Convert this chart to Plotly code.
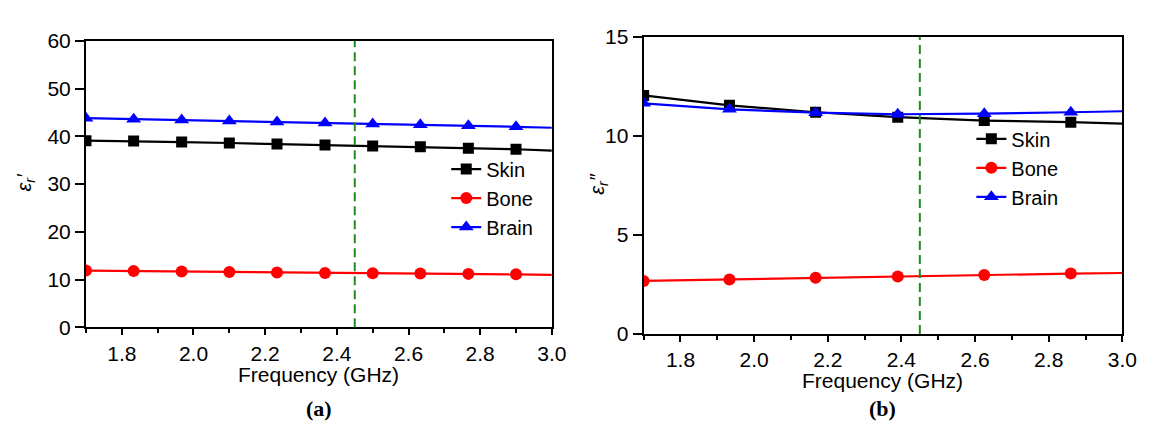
import plotly.graph_objects as go

W, H = 1157, 424

# ---------------- data ----------------
freq_a = [1.7, 1.833, 1.967, 2.1, 2.233, 2.367, 2.5, 2.633, 2.767, 2.9]
freq_a_end = [2.9, 3.0]
skin_a = [39.1, 39.0, 38.8, 38.6, 38.4, 38.2, 38.0, 37.8, 37.5, 37.3]
skin_a_end = [37.3, 37.0]
bone_a = [11.9, 11.8, 11.7, 11.6, 11.5, 11.4, 11.35, 11.3, 11.2, 11.1]
bone_a_end = [11.1, 11.0]
brain_a = [43.8, 43.6, 43.4, 43.2, 43.0, 42.8, 42.6, 42.4, 42.2, 42.0]
brain_a_end = [42.0, 41.8]

freq_b = [1.7, 1.933, 2.167, 2.39, 2.625, 2.86]
freq_b_end = [2.86, 3.0]
skin_b = [12.05, 11.55, 11.2, 10.95, 10.78, 10.7]
skin_b_end = [10.7, 10.63]
bone_b = [2.68, 2.75, 2.84, 2.9, 2.98, 3.05]
bone_b_end = [3.05, 3.08]
brain_b = [11.65, 11.35, 11.18, 11.1, 11.13, 11.2]
brain_b_end = [11.2, 11.25]

marker_freq = 2.45

x_major = [1.8, 2.0, 2.2, 2.4, 2.6, 2.8, 3.0]
x_minor = [1.7, 1.9, 2.1, 2.3, 2.5, 2.7, 2.9]

FONT = "Liberation Sans, Arial, sans-serif"


def px(x):
    return x / W


def py(y):
    return 1 - y / H


fig = go.Figure()

series = [
    ("Skin", "black", "square", 11),
    ("Bone", "red", "circle", 12),
    ("Brain", "blue", "triangle-up", 13),
]

data_a = [(skin_a, skin_a_end), (bone_a, bone_a_end), (brain_a, brain_a_end)]
data_b = [(skin_b, skin_b_end), (bone_b, bone_b_end), (brain_b, brain_b_end)]

for (name, col, sym, sz), (vals, tail) in zip(series, data_a):
    fig.add_trace(go.Scatter(x=freq_a_end, y=tail, mode="lines", line=dict(color=col, width=2.2),
                             showlegend=False, xaxis="x", yaxis="y", hoverinfo="skip"))
    fig.add_trace(go.Scatter(x=freq_a, y=vals, mode="lines+markers", name=name,
                             line=dict(color=col, width=2.2),
                             marker=dict(symbol=sym, size=sz, color=col),
                             xaxis="x", yaxis="y", legend="legend"))

for (name, col, sym, sz), (vals, tail) in zip(series, data_b):
    fig.add_trace(go.Scatter(x=freq_b_end, y=tail, mode="lines", line=dict(color=col, width=2.2),
                             showlegend=False, xaxis="x2", yaxis="y2", hoverinfo="skip"))
    fig.add_trace(go.Scatter(x=freq_b, y=vals, mode="lines+markers", name=name,
                             line=dict(color=col, width=2.2),
                             marker=dict(symbol=sym, size=sz, color=col),
                             xaxis="x2", yaxis="y2", legend="legend2"))

axis_common = dict(showgrid=False, zeroline=False, showline=True, linewidth=2, linecolor="black",
                   mirror=True, ticks="outside", tickwidth=2, tickcolor="black",
                   tickfont=dict(family=FONT, size=21, color="black"))

xcommon = dict(axis_common, range=[1.7, 3.0], tickvals=x_major, tickformat=".1f", ticklen=6,
               minor=dict(tickvals=x_minor, ticks="outside", ticklen=4, tickwidth=2, tickcolor="black"))

fig.update_layout(
    width=W, height=H,
    margin=dict(l=0, r=0, t=0, b=0),
    paper_bgcolor="white", plot_bgcolor="white",
    xaxis=dict(xcommon, domain=[px(79), px(551)], anchor="y"),
    yaxis=dict(axis_common, domain=[py(325), py(22)], range=[0, 60], dtick=10, ticklen=9, anchor="x"),
    xaxis2=dict(xcommon, domain=[px(644), px(1129)], anchor="y2"),
    yaxis2=dict(axis_common, domain=[py(332), py(18)], range=[0, 15], dtick=5, ticklen=9, anchor="x2"),
    legend=dict(x=px(444), y=py(137), xanchor="left", yanchor="top", bgcolor="rgba(0,0,0,0)",
                font=dict(family=FONT, size=20, color="black"), tracegroupgap=0),
    legend2=dict(x=px(976), y=py(105), xanchor="left", yanchor="top", bgcolor="rgba(0,0,0,0)",
                 font=dict(family=FONT, size=20, color="black"), tracegroupgap=0),
    shapes=[
        dict(type="line", xref="x", yref="y domain", x0=marker_freq, x1=marker_freq, y0=0, y1=1,
             line=dict(color="#1e8c1e", width=2, dash="9px,5px")),
        dict(type="line", xref="x2", yref="y2 domain", x0=marker_freq, x1=marker_freq, y0=0, y1=1,
             line=dict(color="#1e8c1e", width=2, dash="9px,5px")),
    ],
    showlegend=True,
)

annots = [
    dict(text="Frequency (GHz)", x=px(315), y=py(375), font=dict(family=FONT, size=21, color="black")),
    dict(text="Frequency (GHz)", x=px(886), y=py(381), font=dict(family=FONT, size=21, color="black")),
    dict(text="<b>(a)</b>", x=px(315), y=py(411), font=dict(family="Liberation Serif, Times New Roman, serif", size=22, color="black")),
    dict(text="<b>(b)</b>", x=px(886), y=py(411), font=dict(family="Liberation Serif, Times New Roman, serif", size=22, color="black")),
    dict(text="<i>ε<sub>r</sub>′</i>", x=px(18), y=py(172), textangle=-90,
         font=dict(family=FONT, size=20, color="black")),
    dict(text="<i>ε<sub>r</sub>″</i>", x=px(598), y=py(174), textangle=-90,
         font=dict(family=FONT, size=20, color="black")),
]
for a in annots:
    fig.add_annotation(xref="paper", yref="paper", xanchor="center", yanchor="middle",
                       showarrow=False, **a)

fig.write_html("out.html")
